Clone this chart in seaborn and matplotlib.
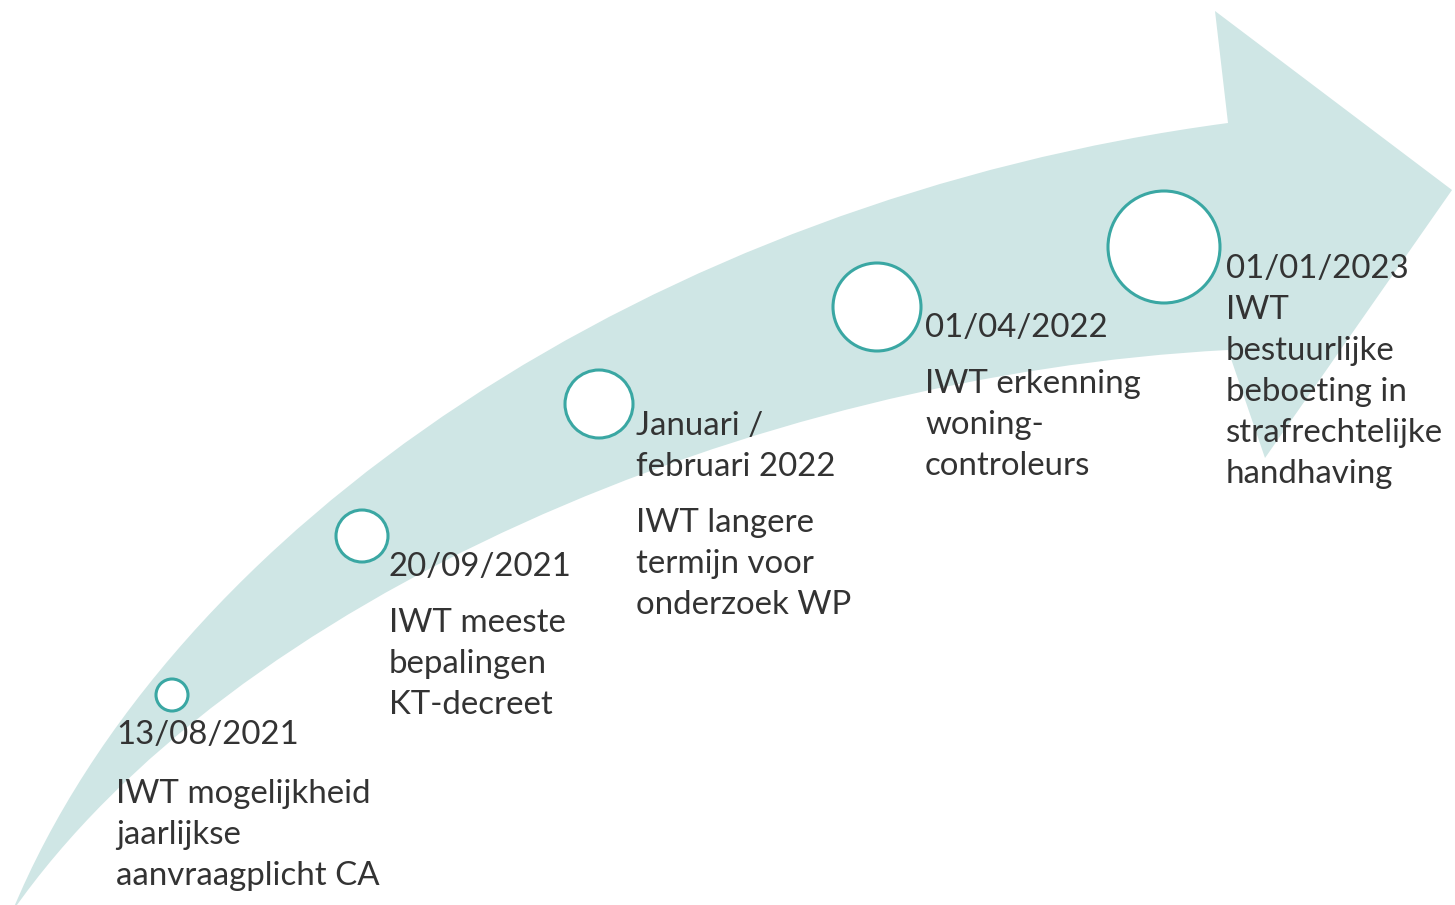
import numpy as np
import pandas as pd
import matplotlib.pyplot as plt
from matplotlib.path import Path
from matplotlib.patches import PathPatch
import seaborn as sns

# Gegevens van de tijdlijn
datums = ['13/08/2021', '20/09/2021', 'Januari /\nfebruari 2022', '01/04/2022', '01/01/2023']
omschrijvingen = [
    'IWT mogelijkheid\njaarlijkse\naanvraagplicht CA',
    'IWT meeste\nbepalingen\nKT-decreet',
    'IWT langere\ntermijn voor\nonderzoek WP',
    'IWT erkenning\nwoning-\ncontroleurs',
    'IWT\nbestuurlijke\nbeboeting in\nstrafrechtelijke\nhandhaving',
]

# Opmaak (pixels, y naar beneden)
cirkel_x = [172, 362, 599, 877, 1164]
cirkel_y = [695, 536, 404, 307, 247]
cirkel_r = [16, 26, 34, 44, 56]
tekst_x = [116, 389, 636, 925, 1226]
datum_y = [744, 576, 435, 337, 278]
omschr_y = [803, 632, 532, 393, 319]
REGEL = 41

BAND = '#cfe6e5'
TEAL = '#3aa7a3'
TEKST = '#333333'

sns.set_theme(style='white')
plt.rcParams['font.family'] = ['Lato', 'DejaVu Sans']

fig = plt.figure(figsize=(14.55, 9.05), dpi=100)
ax = fig.add_axes([0, 0, 1, 1])

# --- gebogen pijl (bovenrand, kop, onderrand) ---
staart = (12, 912)
boven_ctrl = [(170, 530), (650, 200), (1228, 123)]
kop = [(1215, 11), (1452, 190), (1265, 458), (1228, 350)]
onder_ctrl = [(750, 375), (230, 600), staart]

verts = [staart] + boven_ctrl + kop + onder_ctrl + [staart]
codes = ([Path.MOVETO] + [Path.CURVE4] * 3 + [Path.LINETO] * 4
         + [Path.CURVE4] * 3 + [Path.CLOSEPOLY])
ax.add_patch(PathPatch(Path(verts, codes), facecolor=BAND, edgecolor='none', zorder=1))

# --- cirkels ---
df = pd.DataFrame({'x': cirkel_x, 'y': cirkel_y, 'r': cirkel_r})
sns.scatterplot(data=df, x='x', y='y', ax=ax, s=(2 * df['r'] * 0.72) ** 2,
                color='white', edgecolor=TEAL, linewidth=2.2, zorder=3, legend=False)
ax.set_xlim(0, 1455)
ax.set_ylim(905, 0)
ax.axis('off')

# --- teksten ---
for i in range(len(datums)):
    for j, regel in enumerate(datums[i].split('\n')):
        ax.text(tekst_x[i], datum_y[i] + j * REGEL, regel, fontsize=23.8,
                color=TEKST, va='baseline', ha='left', zorder=4)
    for j, regel in enumerate(omschrijvingen[i].split('\n')):
        ax.text(tekst_x[i], omschr_y[i] + j * REGEL, regel, fontsize=23.8,
                color=TEKST, va='baseline', ha='left', zorder=4)

fig.savefig('out.png', dpi=100)
